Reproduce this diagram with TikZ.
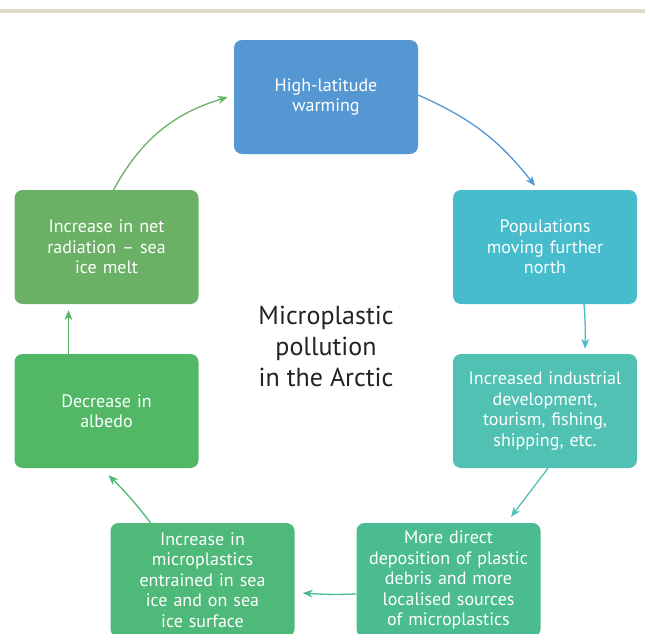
\documentclass[tikz,border=0pt]{standalone}
\usepackage{fontspec}
\setmainfont{PT Sans}
\usetikzlibrary{arrows.meta}
\usepackage{xcolor}
\definecolor{bandbeige}{RGB}{223,217,201}
\definecolor{warmblue}{RGB}{85,151,211}
\definecolor{popcyan}{RGB}{70,188,205}
\definecolor{indteal}{RGB}{80,193,178}
\definecolor{depgreen}{RGB}{75,187,145}
\definecolor{icegreen}{RGB}{78,185,120}
\definecolor{albgreen}{RGB}{82,184,102}
\definecolor{radgreen}{RGB}{106,177,101}
\definecolor{titlegrey}{RGB}{35,35,35}
\tikzset{
  cyclebox/.style={rounded corners=8pt,minimum width=184pt,minimum height=114pt,
    text width=178pt,align=center,text=white,
    font=\fontsize{18}{20.5}\selectfont,inner sep=0pt},
  cyclearrow/.style={-{Stealth[length=10pt,width=8pt]},line width=1.3pt}
}
\begin{document}
\begin{tikzpicture}[x=1pt,y=-1pt]
  \useasboundingbox (0,0) rectangle (645,633);
  \clip (0,0) rectangle (645,633);
  \fill[bandbeige] (0,9) rectangle (645,13);
  \node[cyclebox,fill=warmblue] (warm) at (326,97){High-latitude\\warming};
  \node[cyclebox,fill=popcyan] (pop) at (545,247){Populations\\moving further\\north};
  \node[cyclebox,fill=indteal] (ind) at (545,411){Increased industrial\\development,\\tourism, fishing,\\shipping, etc.};
  \node[cyclebox,fill=depgreen] (dep) at (448.5,580){More direct\\deposition of plastic\\debris and more\\localised sources\\of microplastics};
  \node[cyclebox,fill=icegreen] (ice) at (202.5,580){Increase in\\microplastics\\entrained in sea\\ice and on sea\\ice surface};
  \node[cyclebox,fill=albgreen] (alb) at (106.5,411){Decrease in\\albedo};
  \node[cyclebox,fill=radgreen] (rad) at (106.5,247){Increase in net\\radiation -- sea\\ice melt};
  \node[align=center,text=titlegrey,font=\fontsize{26}{31}\selectfont] (title) at (326,346){Microplastic\\pollution\\in the Arctic};
  \draw[cyclearrow,warmblue] ([yshift=2pt]warm.east) to[bend left=14] ([xshift=-10pt,yshift=4pt]pop.north);
  \draw[cyclearrow,popcyan] ([xshift=39pt]pop.south) to[bend left=3] ([xshift=40pt,yshift=5pt]ind.north);
  \draw[cyclearrow,indteal] ([xshift=3pt]ind.south) -- ([xshift=-34pt,yshift=6pt]ind.south |- dep.north);
  \draw[cyclearrow,depgreen] ([yshift=-14pt]dep.west) to[bend left=3] ([xshift=8pt,yshift=-13pt]ice.east);
  \draw[cyclearrow,icegreen] ([xshift=-52pt]ice.north) to[bend right=4] ([xshift=2pt,yshift=-7pt]alb.south);
  \draw[cyclearrow,albgreen] ([xshift=-38pt]alb.north) -- ([xshift=-38pt,yshift=-6pt]rad.south);
  \draw[cyclearrow,radgreen] ([xshift=7pt]rad.north) to[bend left=22] ([xshift=-6pt]warm.west);
\end{tikzpicture}
\end{document}
